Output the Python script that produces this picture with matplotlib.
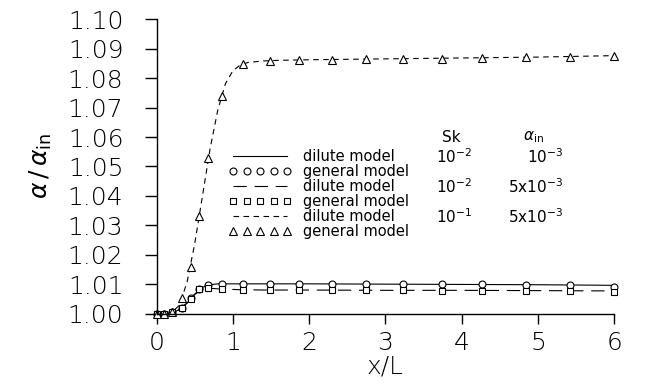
import matplotlib
matplotlib.use("Agg")
import matplotlib.pyplot as plt

# x positions of the general-model markers
x_pts = [0, 0.1, 0.2, 0.33, 0.45, 0.56, 0.67, 0.85, 1.13, 1.48, 1.86,
         2.3, 2.75, 3.23, 3.74, 4.27, 4.84, 5.42, 6.0]
# general model, Sk=1e-2, a_in=1e-3 (circles)
gen_circ = [1.000, 1.000, 1.0005, 1.0020, 1.0053, 1.0086, 1.0099, 1.0101, 1.0101,
            1.0101, 1.0101, 1.0101, 1.0101, 1.0101, 1.0100, 1.0100, 1.0099, 1.0098, 1.0092]
# general model, Sk=1e-2, a_in=5e-3 (squares)
gen_sq = [1.000, 1.000, 1.0005, 1.0020, 1.0050, 1.0083, 1.0088, 1.0085, 1.0082,
          1.0081, 1.0081, 1.0080, 1.0080, 1.0080, 1.0079, 1.0079, 1.0078, 1.0078, 1.0075]
# general model, Sk=1e-1, a_in=5e-3 (triangles)
gen_tri = [1.000, 1.000, 1.0006, 1.0053, 1.0158, 1.0332, 1.0528, 1.0740, 1.0849,
           1.0858, 1.0861, 1.0862, 1.0864, 1.0865, 1.0866, 1.0868, 1.0870, 1.0872, 1.0876]

# dilute model curves
x_line = [0, 0.1, 0.2, 0.3, 0.4, 0.5, 0.6, 0.7, 0.8, 0.9, 1.0, 1.1, 1.2,
          1.4, 1.6, 2.0, 3.0, 4.0, 5.0, 6.0]
dil_1 = [1.000, 1.000, 1.0003, 1.0015, 1.0038, 1.0068, 1.0090, 1.0099, 1.0102, 1.0102,
         1.0102, 1.0102, 1.0102, 1.0102, 1.0102, 1.0102, 1.0101, 1.0100, 1.0099, 1.0097]
dil_2 = [1.000, 1.000, 1.0003, 1.0015, 1.0037, 1.0066, 1.0084, 1.0087, 1.0085, 1.0084,
         1.0083, 1.0082, 1.0082, 1.0081, 1.0081, 1.0081, 1.0080, 1.0080, 1.0079, 1.0078]
dil_3 = [1.000, 1.000, 1.0006, 1.0030, 1.0110, 1.0240, 1.0400, 1.0560, 1.0690, 1.0780,
         1.0825, 1.0845, 1.0853, 1.0858, 1.0860, 1.0862, 1.0865, 1.0868, 1.0871, 1.0876]

sk_vals = [r"$10^{-2}$", r"$10^{-2}$", r"$10^{-1}$"]
ain_vals = [r"$10^{-3}$", r"$5{\rm x}10^{-3}$", r"$5{\rm x}10^{-3}$"]

plt.rcParams['font.family'] = ['DejaVu Sans']
plt.rcParams['mathtext.fontset'] = 'dejavusans'

fig = plt.figure(figsize=(6.64, 3.89), dpi=100)
ax = fig.add_axes([0.236, 0.193, 0.689, 0.758])

lw = 0.8
mk = dict(mfc='white', mec='black', mew=0.8, ls='none', clip_on=False)
l1, = ax.plot(x_line, dil_1, color='black', lw=lw, ls='-')
l2, = ax.plot(x_line, dil_2, color='black', lw=lw, dashes=(12, 7))
l3, = ax.plot(x_line, dil_3, color='black', lw=lw, dashes=(5, 4))
m1, = ax.plot(x_pts, gen_circ, marker='o', ms=5, **mk)
m2, = ax.plot(x_pts, gen_sq, marker='s', ms=4.5, **mk)
m3, = ax.plot(x_pts, gen_tri, marker='^', ms=5.5, **mk)

ax.set_xlim(0, 6)
ax.set_ylim(1.0, 1.10)
ax.set_xticks(range(7))
ax.set_yticks([1.0 + 0.01 * i for i in range(11)])
ax.set_yticklabels([f"{1.0 + 0.01 * i:.2f}" for i in range(11)])
for s in ['top', 'right']:
    ax.spines[s].set_visible(False)
for s in ['left', 'bottom']:
    ax.spines[s].set_linewidth(1.0)
ax.tick_params(axis='y', direction='out', length=9, width=1.0, pad=15, labelsize=18)
ax.tick_params(axis='x', direction='out', length=7, width=1.0, pad=5, labelsize=18)
for lab in ax.get_xticklabels() + ax.get_yticklabels():
    lab.set_fontweight('light')

ax.set_xlabel("x/L", fontsize=18, fontweight='light', labelpad=0)
ax.set_ylabel(r"$\alpha\,/\,\alpha_{\rm in}$", fontsize=18, labelpad=10)

fs = 10.5
leg = ax.legend([l1, m1, l2, m2, l3, m3],
                ["dilute model", "general model"] * 3,
                loc='upper left', bbox_to_anchor=(0.142, 0.585),
                frameon=False, fontsize=fs, numpoints=5, handlelength=4.3,
                handletextpad=0.8, labelspacing=0.0, borderpad=0)

# put the Sk / alpha_in columns on the same rows as the dilute-model entries
fig.canvas.draw()
inv = ax.transAxes.inverted()
rows = []
for t in leg.get_texts()[0::2]:
    bb = t.get_window_extent()
    rows.append(inv.transform((0, (bb.y0 + bb.y1) / 2))[1])
head_y = rows[0] + 0.065

ax.text(0.624, head_y, "Sk", transform=ax.transAxes, fontsize=11, ha='left', va='center')
ax.text(0.823, head_y, r"$\alpha_{\rm in}$", transform=ax.transAxes, fontsize=11, ha='center', va='center')
for y, sk, a in zip(rows, sk_vals, ain_vals):
    ax.text(0.611, y, sk, transform=ax.transAxes, fontsize=11, ha='left', va='center')
    ax.text(0.888, y, a, transform=ax.transAxes, fontsize=11, ha='right', va='center')

fig.savefig("out.png", dpi=100)
